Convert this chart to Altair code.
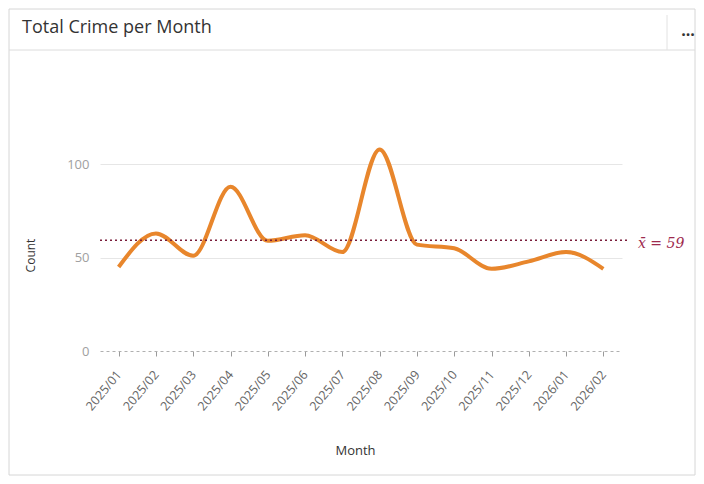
import altair as alt
import pandas as pd

months = ["2025/01", "2025/02", "2025/03", "2025/04", "2025/05", "2025/06", "2025/07",
          "2025/08", "2025/09", "2025/10", "2025/11", "2025/12", "2026/01", "2026/02"]
counts = [45, 63, 51, 88, 59, 62, 53, 108, 57, 55, 44, 48, 53, 44]

chart_title = "Total Crime per Month"
x_title = "Month"
y_title = "Count"

df = pd.DataFrame({"Month": months, "Count": counts})
one = pd.DataFrame({"k": [0]})

W, H = 522, 224
FONT = "Open Sans"

y_axis = alt.Axis(title=y_title, values=[0, 50, 100], labelFontSize=13,
                  labelColor="#a0a0a0", labelPadding=11, labelFont=FONT,
                  domain=False, ticks=False,
                  gridColor="#e6e6e6",
                  gridOpacity={"condition": {"test": "datum.value === 0", "value": 0}, "value": 1},
                  titleFont=FONT, titleFontSize=12, titleFontWeight="normal",
                  titleColor="#333333", titleX=-70, titleY=128, titleAngle=-90,
                  titleBaseline="middle")

base = alt.Chart(df)

line = base.mark_line(interpolate="monotone", color="#e8862c", strokeWidth=4).encode(
    x=alt.X("Month:O", sort=months, scale=alt.Scale(padding=0.5),
            axis=alt.Axis(title=x_title, labelAngle=-50, labelFontSize=12.5, labelColor="#666666",
                          labelPadding=16, labelFont=FONT,
                          domainColor="#b0b0b0", domainDash=[3, 3], domainWidth=1,
                          tickColor="#9a9a9a", tickSize=5, tickWidth=1,
                          titleFont=FONT, titleFontSize=13, titleFontWeight="normal",
                          titleColor="#333333", titleX=255, titleY=99, titleBaseline="middle")),
    y=alt.Y("Count:Q", scale=alt.Scale(domain=[0, 120]), title=y_title, axis=y_axis),
)

mean_rule = base.mark_rule(color="#7a1d3a", strokeDash=[2, 3], strokeWidth=1.5).encode(
    y=alt.Y("mean(Count):Q", title=y_title, axis=y_axis), x=alt.value(0), x2=alt.value(527)
)

mean_text = base.transform_aggregate(m="mean(Count)").transform_calculate(
    label='"x\u0304 = " + format(datum.m, ".0f")'
).mark_text(align="left", baseline="middle", font="DejaVu Serif", fontStyle="italic",
            fontSize=14, color="#9e2a4e", dy=4).encode(
    y=alt.Y("m:Q", title=y_title, axis=y_axis), x=alt.value(538), text="label:N"
)

card = alt.Chart(one).mark_rect(fill="white", fillOpacity=0, stroke="#d6d6d6", strokeWidth=1).encode(
    x=alt.value(-91), x2=alt.value(595), y=alt.value(-118), y2=alt.value(348)
)
sep = alt.Chart(one).mark_rule(color="#dcdcdc", strokeWidth=1).encode(
    x=alt.value(-91), x2=alt.value(595), y=alt.value(-77)
)
divider = alt.Chart(one).mark_rule(color="#e2e2e2", strokeWidth=1).encode(
    x=alt.value(567), y=alt.value(-112), y2=alt.value(-77)
)
title = alt.Chart(one).mark_text(align="left", baseline="middle", font=FONT, fontSize=18,
                                 color="#333333").encode(
    x=alt.value(-78), y=alt.value(-99), text=alt.value(chart_title)
)
dots = alt.Chart(one).mark_text(align="center", baseline="middle", font=FONT, fontSize=16,
                                fontWeight="bold", color="#333333").encode(
    x=alt.value(588), y=alt.value(-96), text=alt.value("...")
)

chart = alt.layer(card, sep, divider, title, dots, line, mean_rule, mean_text).properties(
    width=W, height=H,
    autosize=alt.AutoSizeParams(type="none"),
    padding={"left": 92, "top": 119, "right": 74, "bottom": 125},
    background="white",
).configure_view(stroke=None)

chart.save("out.html", embed_options={"renderer": "svg", "actions": False})
